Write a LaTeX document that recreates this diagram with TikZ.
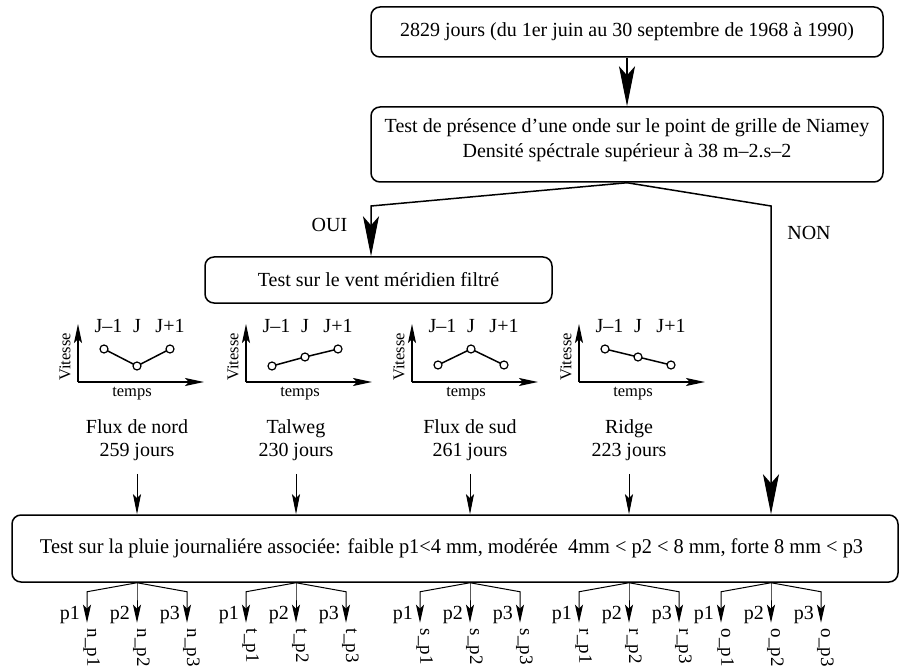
\documentclass[tikz,border=0pt]{standalone}
\usepackage{fontspec}
\setmainfont{Liberation Serif}
\usepackage{graphicx}
\usetikzlibrary{arrows.meta}
\tikzset{
 box/.style={draw, line width=1.5pt, rounded corners=9pt, inner sep=0pt},
 txt/.style={font=\fontsize{20}{24}\selectfont, align=center, inner sep=0pt},
 smalltxt/.style={font=\fontsize{16.5}{18}\selectfont, inner sep=0pt},
 jlab/.style={font=\fontsize{20}{21}\selectfont, inner sep=0pt},
 plab/.style={font=\fontsize{20}{22}\selectfont, inner sep=0pt},
 rlab/.style={font=\fontsize{19}{20}\selectfont, inner sep=0pt},
 thick line/.style={line width=1.5pt},
 bigarr/.style={line width=1.5pt, -{Stealth[length=40pt,width=16pt,inset=9pt]}},
 labarr/.style={line width=1pt, -{Stealth[length=20pt,width=8pt,inset=4pt]}},
 subarr/.style={line width=1pt, -{Stealth[length=18pt,width=8pt,inset=4pt]}},
 axarr/.style={line width=1.4pt, -{Stealth[length=19pt,width=8pt,inset=4pt]}},
 dot/.style={line width=1.2pt, fill=white},
}
\newcommand\miniplot[5]{%
 \draw[axarr] (#1,382) -- (#1,324);
 \draw[axarr] (#1,382) -- (#1+126,382);
 \draw[thick line] (#1+26,#2) -- (#1+59,#3) -- (#1+92,#4);
 \foreach \dx/\yy in {26/#2,59/#3,92/#4}{\draw[dot] (#1+\dx,\yy) circle[radius=4pt];}
 \node[jlab] (#5-j1) at (#1+30.5,326) {J--1};
 \node[jlab] (#5-j2) at (#1+59,326) {J};
 \node[jlab] (#5-j3) at (#1+92,326) {J+1};
 \node[smalltxt, rotate=90] (#5-v) at (#1-13,357) {Vitesse};
 \node[smalltxt] (#5-t) at (#1+54,394) {temps};
}
\begin{document}
\begin{tikzpicture}[x=1pt,y=-1pt]
\useasboundingbox (0,0) rectangle (900,671);
% top boxes
\node[box, txt, minimum width=512pt, minimum height=50pt] (b1) at (627,32) {2829 jours (du 1er juin au 30 septembre de 1968 à 1990)};
\node[box, minimum width=512pt, minimum height=75pt] (b2) at (627,144.5) {};
\node[txt, font=\fontsize{20}{25}\selectfont] (b2t) at (627,140) {Test de présence d’une onde sur le point de grille de Niamey\\Densité spéctrale supérieur à 38 m--2.s--2};
\draw[bigarr] (b1.south) -- (b2.north);
% middle box
\node[box, txt, minimum width=347pt, minimum height=46pt] (b3) at (378.5,280) {Test sur le vent méridien filtré};
% bottom box
\node[box, minimum width=886pt, minimum height=67pt] (b4) at (455,548.5) {};
\node[txt, font=\fontsize{21}{22}\selectfont] (b4t) at (451.5,548) {\resizebox{823pt}{\height}{Test sur la pluie journaliére associée: faible p1<4 mm, modérée\ \ 4mm < p2 < 8 mm, forte 8 mm < p3}};
% branches
\coordinate (cl) at (371,206);
\coordinate (cr) at (771,206);
\draw[bigarr] (b2.south) -- (cl) -- (cl |- b3.north);
\draw[bigarr] (b2.south) -- (cr) -- (cr |- b4.north);
\node[txt] (oui) at (329.5,225) {OUI};
\node[txt] (non) at (809,233) {NON};
% mini plots
\miniplot{78}{349}{366}{349}{p1}
\miniplot{246}{366}{357}{349}{p2}
\miniplot{412}{365}{349}{365}{p3}
\miniplot{579}{349}{357}{365}{p4}
% category labels
\node[txt, font=\fontsize{20}{23}\selectfont] (lab1) at (137,440) {Flux de nord\\259 jours};
\node[txt, font=\fontsize{20}{23}\selectfont] (lab2) at (296,440) {Talweg\\230 jours};
\node[txt, font=\fontsize{20}{23}\selectfont] (lab3) at (470,440) {Flux de sud\\261 jours};
\node[txt, font=\fontsize{20}{23}\selectfont] (lab4) at (629,440) {Ridge\\223 jours};
\foreach \l in {lab1,lab2,lab3,lab4}{
  \draw[labarr] ([yshift=-13pt]\l.south) -- (\l.south |- b4.north);
}
% rain classes
\foreach \src/\g in {lab1/n,lab2/t,lab3/s,lab4/r,cr/o}{
  \coordinate (\g0) at (b4.south -| \src);
  \foreach \d/\k in {-50/1,0/2,50/3}{
    \coordinate (\g-m\k) at ([xshift=\d pt, yshift=-9pt]\g0);
    \coordinate (\g-e\k) at ([xshift=\d pt, yshift=-40pt]\g0);
    \draw[subarr] (\g0) -- (\g-m\k) -- (\g-e\k);
    \node[plab, anchor=base east] (\g-l\k) at ([xshift=-7pt, yshift=3pt]\g-e\k) {p\k};
    \node[rlab, rotate=-90, anchor=west] (\g-r\k) at ([xshift=4.5pt, yshift=-6pt]\g-e\k) {\g\_p\k};
  }
}
\end{tikzpicture}
\end{document}
